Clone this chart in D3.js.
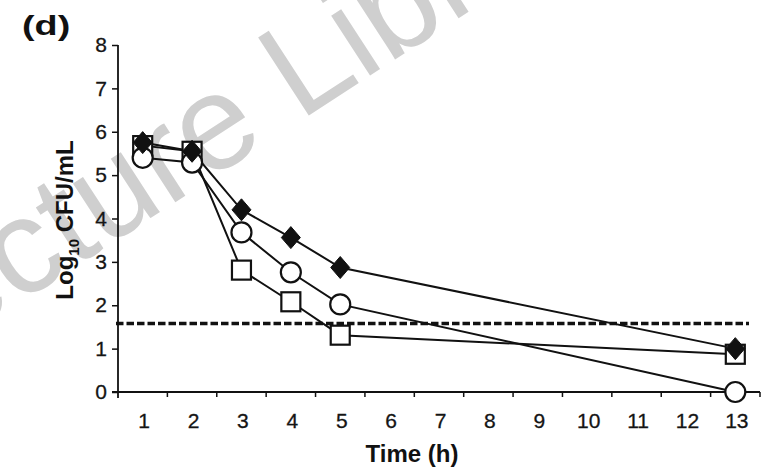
<!DOCTYPE html>
<html>
<head>
<meta charset="utf-8">
<script src="https://cdn.jsdelivr.net/npm/d3@7"></script>
<style>
  html, body { margin: 0; padding: 0; background: #fff; }
  svg { display: block; }
  text { font-family: "Liberation Sans", Arial, sans-serif; fill: #111; }
</style>
</head>
<body>
<svg id="chart" width="771" height="470"></svg>
<script>
// Time-kill data: log10 CFU/mL at each sampling time
const timeLabels = ["1", "2", "3", "4", "5", "6", "7", "8", "9", "10", "11", "12", "13"];
const sampleTimes = ["1", "2", "3", "4", "5", "13"];
const diamondSeries = [5.75, 5.55, 4.20, 3.56, 2.87, 1.00];
const squareSeries  = [5.68, 5.55, 2.81, 2.08, 1.31, 0.87];
const circleSeries  = [5.40, 5.29, 3.68, 2.76, 2.02, 0.00];
const yTicks = [0, 1, 2, 3, 4, 5, 6, 7, 8];
const detectionLimit = 1.58;

const svg = d3.select("#chart");

// Faint background lettering
const wm = svg.append("text")
  .attr("font-size", 135)
  .style("fill", "#cfcfcf")
  .text("Lecture Library");
const offL = wm.node().getSubStringLength(0, 8);
wm.attr("x", -offL).attr("transform", "translate(299.6,121.4) rotate(-33)");

const x = d3.scaleBand().domain(timeLabels).range([118, 760]).padding(0);
const y = d3.scaleLinear().domain([0, 8]).range([392, 45]);
const cx = t => x(t) + x.bandwidth() / 2;

// Y axis
const yAxis = d3.axisLeft(y).tickValues(yTicks).tickSize(6).tickPadding(5).tickFormat(d3.format("d"));
const gy = svg.append("g").attr("transform", "translate(118,0)").call(yAxis);
gy.select(".domain").attr("d", "M0,45V398").attr("stroke", "#111").attr("stroke-width", 1.8);
gy.selectAll(".tick line").attr("stroke", "#111").attr("stroke-width", 1.5);
gy.selectAll(".tick text").attr("font-size", 21)
  .style("font-family", "Liberation Sans, Arial, sans-serif")
  .style("fill", "#151515").style("stroke", "#151515").style("stroke-width", 0.3);

// X axis: ticks on band boundaries, labels centred in bands
const gx = svg.append("g").attr("transform", "translate(0,392)");
gx.append("line").attr("x1", 112).attr("x2", 760).attr("y1", 0).attr("y2", 0)
  .attr("stroke", "#111").attr("stroke-width", 1.8);
gx.selectAll("line.tk").data(timeLabels).join("line").attr("class", "tk")
  .attr("x1", d => x(d) + x.bandwidth()).attr("x2", d => x(d) + x.bandwidth())
  .attr("y1", 0).attr("y2", 5).attr("stroke", "#111").attr("stroke-width", 1.5);
gx.selectAll("text").data(timeLabels).join("text")
  .attr("x", d => cx(d) + 1.5).attr("y", 36)
  .attr("text-anchor", "middle").attr("font-size", 21)
  .style("fill", "#151515").style("stroke", "#151515").style("stroke-width", 0.3)
  .text(d => d);

// Detection limit
svg.append("line")
  .attr("x1", 116).attr("x2", 749)
  .attr("y1", y(detectionLimit)).attr("y2", y(detectionLimit))
  .attr("stroke", "#111").attr("stroke-width", 3.5).attr("stroke-dasharray", "7.5,3");

// Series lines
const line = d3.line().x(d => cx(d.t)).y(d => y(d.v));
const toPts = vals => sampleTimes.map((t, i) => ({ t, v: vals[i] }));
[squareSeries, circleSeries, diamondSeries].forEach(vals => {
  svg.append("path").datum(toPts(vals)).attr("d", line)
    .attr("fill", "none").attr("stroke", "#111").attr("stroke-width", 2);
});

// Markers
svg.selectAll("rect.sq").data(toPts(squareSeries)).join("rect").attr("class", "sq")
  .attr("x", d => cx(d.t) - 9.5).attr("y", d => y(d.v) - 9.5)
  .attr("width", 19).attr("height", 19)
  .attr("fill", "#fff").attr("stroke", "#111").attr("stroke-width", 2.2);

svg.selectAll("circle.ci").data(toPts(circleSeries)).join("circle").attr("class", "ci")
  .attr("cx", d => cx(d.t)).attr("cy", d => y(d.v)).attr("r", 10)
  .attr("fill", "#fff").attr("stroke", "#111").attr("stroke-width", 2.2);

svg.selectAll("path.di").data(toPts(diamondSeries)).join("path").attr("class", "di")
  .attr("d", d => {
    const px = cx(d.t), py = y(d.v);
    return `M${px},${py - 11}L${px + 9.5},${py}L${px},${py + 11}L${px - 9.5},${py}Z`;
  })
  .attr("fill", "#111").attr("stroke", "#111").attr("stroke-width", 1);

// Axis titles
svg.append("text").attr("x", 412).attr("y", 462).attr("text-anchor", "middle")
  .attr("font-size", 24).attr("font-weight", "bold").text("Time (h)");

const yl = svg.append("text").attr("transform", "translate(73,220) rotate(-90)")
  .attr("text-anchor", "middle").attr("font-size", 24).attr("font-weight", "bold");
yl.append("tspan").text("Log");
yl.append("tspan").attr("font-size", 15).attr("dy", 6).text("10");
yl.append("tspan").attr("dy", -6).text(" CFU/mL");

// Panel letter
svg.append("text").attr("x", 22).attr("y", 35)
  .attr("font-size", 28).attr("font-weight", "bold")
  .attr("transform", "translate(22,0) scale(1.35,1) translate(-22,0)")
  .text("(d)");
</script>
</body>
</html>
